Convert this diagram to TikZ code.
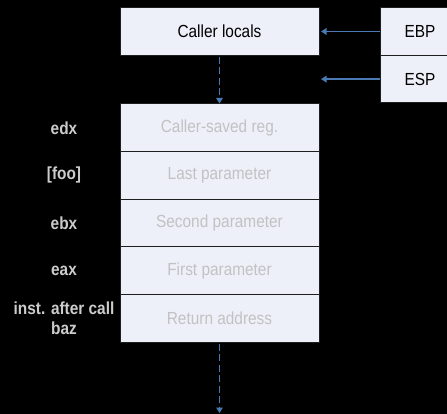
\documentclass[tikz,border=0pt]{standalone}
\usepackage{fontspec}
\setmainfont{Liberation Sans}[FakeStretch=0.88]
\usetikzlibrary{arrows.meta}
\definecolor{cellfill}{HTML}{EDF0F9}
\definecolor{cellline}{HTML}{1E1E1E}
\definecolor{ptrblue}{HTML}{4A7AB4}
\definecolor{dimtext}{HTML}{C2C2C2}
\definecolor{regtext}{HTML}{CCCCCC}
\begin{document}
\begin{tikzpicture}[x=1pt,y=-1pt,
  cell/.style={draw=cellline, line width=1pt, fill=cellfill,
    minimum width=199pt, minimum height=47.6pt, inner sep=0pt,
    font=\fontsize{17.5}{20}\selectfont},
  oldcell/.style={cell, text=dimtext},
  regbox/.style={cell, minimum width=80pt, text=black},
  reglabel/.style={text=regtext, align=center, inner sep=0pt,
    font=\fontsize{17.5}{20}\selectfont\bfseries},
  ptr/.style={draw=ptrblue, line width=1.7pt,
    -{Triangle[length=5.5pt,width=6.5pt]}},
  flow/.style={ptr, dash pattern=on 7pt off 3.5pt}]
\useasboundingbox (0,0) rectangle (447,414);
\clip (0,0) rectangle (447,414);
\fill[black] (0,0) rectangle (447,414);

% caller frame and pointer registers
\node[cell] (loc) at (219.5,31.5) {Caller locals};
\node[regbox] (ebp) at (420,31.5) {EBP};
\node[regbox] (esp) at (420,79.1) {ESP};

% pushed stack slots
\node[oldcell] (s1) at (219.5,127.8) {Caller-saved reg.};
\node[oldcell] (s2) at (219.5,175.4) {Last parameter};
\node[oldcell] (s3) at (219.5,223.0) {Second parameter};
\node[oldcell] (s4) at (219.5,270.6) {First parameter};
\node[oldcell] (s5) at (219.5,318.2) {Return address};

% values held in each slot
\node[reglabel] (l1) at (64,127.8) {edx};
\node[reglabel] (l2) at (64,175.4) {[foo]};
\node[reglabel] (l3) at (64,223.0) {ebx};
\node[reglabel] (l4) at (64,270.6) {eax};
\node[reglabel] (l5) at (64,318.2) {inst. after call\\baz};

% pointers and growth direction
\draw[ptr, shorten >=1.5pt] (ebp.west) -- (loc.east);
\coordinate (espto) at (esp.west -| loc.east);
\draw[ptr, shorten >=1.5pt] (esp.west) -- (espto);
\draw[flow, shorten <=1pt] (loc.south) -- (s1.north);
\coordinate (down) at (219.5,413);
\draw[flow, shorten <=1pt] (s5.south) -- (down);
\end{tikzpicture}
\end{document}
